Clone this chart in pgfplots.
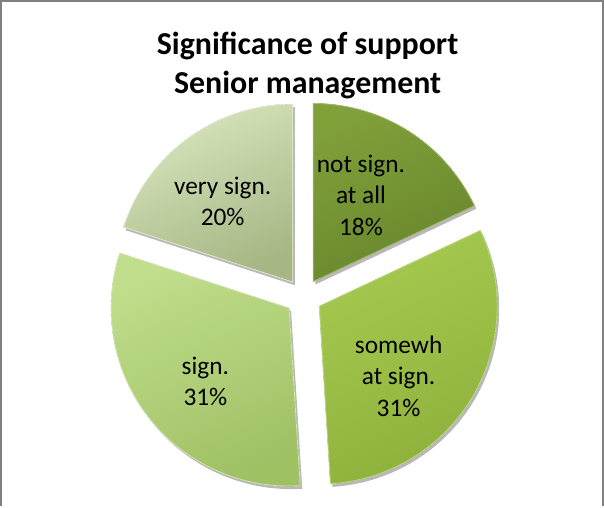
\documentclass[border=0pt]{standalone}
\usepackage{pgfplots}
\pgfplotsset{compat=1.18}
\usepackage{fontspec}
\setmainfont{Carlito}

% slice colours (light edge / dark side)
\definecolor{s1a}{RGB}{128,160,58}
\definecolor{s1b}{RGB}{104,134,44}
\definecolor{s2a}{RGB}{166,202,80}
\definecolor{s2b}{RGB}{140,176,58}
\definecolor{s3a}{RGB}{192,222,140}
\definecolor{s3b}{RGB}{160,192,100}
\definecolor{s4a}{RGB}{216,230,190}
\definecolor{s4b}{RGB}{166,182,132}
\definecolor{frame}{RGB}{128,128,128}

% #1 start (%), #2 share (%), #3 light colour, #4 dark colour
\newcommand\slice[4]{%
  \pgfmathsetmacro\aS{90-3.6*#1}%
  \pgfmathsetmacro\aE{90-3.6*(#1+#2)}%
  \pgfmathsetmacro\aM{(\aS+\aE)/2}%
  \pgfmathsetmacro\px{303.5+18*cos(\aM)}%
  \pgfmathsetmacro\py{206+18*sin(\aM)}%
  \edef\doit{%
    \noexpand\fill[black,opacity=0.28]
      ([shift={(2bp,-3bp)}]axis cs:\px,\py) -- ++(\aS:175bp)
      arc[start angle=\aS, end angle=\aE, radius=175bp] -- cycle;
    \noexpand\fill[top color=#3, bottom color=#4, shading angle=25,
      draw=#3!70!white, line width=0.8bp]
      (axis cs:\px,\py) -- ++(\aS:175bp)
      arc[start angle=\aS, end angle=\aE, radius=175bp] -- cycle;
  }\doit
}

\begin{document}
\begin{tikzpicture}
\begin{axis}[
  width=604bp, height=504bp, scale only axis,
  xmin=0, xmax=604, ymin=0, ymax=504,
  hide axis, clip=false,
]
  % chart frame (bottom edge is cut off)
  \draw[frame, line width=2bp] (axis cs:6,0) -- (axis cs:6,497) -- (axis cs:598,497) -- (axis cs:598,0);

  % pie: values 18, 31, 31, 20 (%)
  \slice{0}{18}{s1a}{s1b}
  \slice{18}{31}{s2a}{s2b}
  \slice{49}{31}{s3a}{s3b}
  \slice{80}{20}{s4a}{s4b}

  % title
  \node[anchor=base, font=\fontsize{31.5}{37}\selectfont\bfseries] at (axis cs:307.5,444) {Significance of support};
  \node[anchor=base, font=\fontsize{31.5}{37}\selectfont\bfseries] at (axis cs:307.5,406) {Senior management};

  % data labels
  \begin{scope}[every node/.style={align=center, font=\fontsize{25}{31}\selectfont}]
    \node at (axis cs:360,306) {not sign.\\at all\\18\%};
    \node at (axis cs:397,128) {somewh\\at sign.\\31\%};
    \node at (axis cs:207,123) {sign.\\31\%};
    \node at (axis cs:224,300) {very sign.\\20\%};
  \end{scope}
\end{axis}
\end{tikzpicture}
\end{document}
